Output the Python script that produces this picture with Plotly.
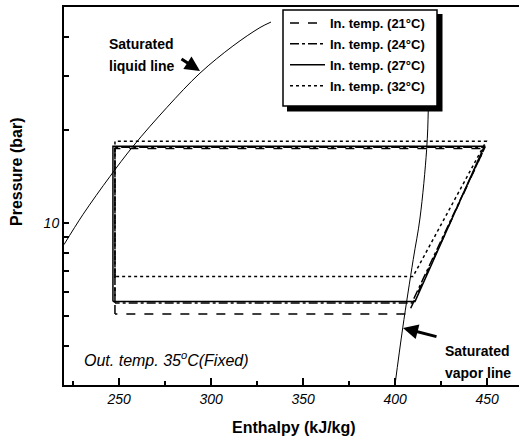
import plotly.graph_objects as go

# ---- data ----
# saturated liquid line (enthalpy kJ/kg, pressure bar)
liq_h = [220.0, 230.3, 245.0, 257.5, 276.0, 293.9, 311.8, 326.5, 332.5]
liq_p = [8.53, 10.67, 14.17, 17.72, 23.7, 30.56, 37.4, 42.9, 44.7]
# saturated vapor line
vap_h = [399.9, 404.1, 409.8, 413.5, 417.1, 418.0, 418.1]
vap_p = [3.0, 4.59, 7.63, 10.4, 17.3, 23.4, 33.9]

# refrigeration cycles for indoor temperatures
h_21 = [247.7, 247.7, 448.5, 407.0, 247.7]
p_21 = [5.09, 17.45, 17.45, 5.09, 5.09]
h_24 = [247.7, 247.7, 448.8, 409.0, 247.7]
p_24 = [5.52, 17.6, 17.6, 5.52, 5.52]
h_27 = [246.6, 246.6, 448.5, 410.8, 246.6]
p_27 = [5.59, 17.75, 17.75, 5.59, 5.59]
h_32 = [247.7, 247.7, 449.5, 409.7, 247.7]
p_32 = [6.73, 18.4, 18.4, 6.73, 6.73]

names = ["In. temp. (21°C)", "In. temp. (24°C)", "In. temp. (27°C)", "In. temp. (32°C)"]
dashes = ["dash", "dashdot", "solid", "dot"]

x_ticks = [250, 300, 350, 400, 450]
x_minor = [225, 275, 325, 375, 425]
y_ticks = [4, 5, 6, 7, 8, 9, 10, 20, 30, 40]
y_text = ["", "", "", "", "", "", "10", "", "", ""]

FONT = "Liberation Sans, Arial, sans-serif"

fig = go.Figure()
fig.add_trace(go.Scatter(x=liq_h, y=liq_p, mode="lines", line=dict(color="black", width=1),
                         line_shape="spline", showlegend=False, hoverinfo="skip"))
fig.add_trace(go.Scatter(x=vap_h, y=vap_p, mode="lines", line=dict(color="black", width=1),
                         line_shape="spline", showlegend=False, hoverinfo="skip"))

for i, (hs, ps) in enumerate([(h_21, p_21), (h_24, p_24), (h_27, p_27), (h_32, p_32)]):
    fig.add_trace(go.Scatter(x=hs, y=ps, mode="lines", name=names[i], legendgroup=f"g{i}",
                             line=dict(color="black", width=1.5, dash=dashes[i])))

def px_x(px):
    return (px - 64) / 455.0

def px_y(py):
    return (385 - py) / 378.0

annotations = [
    dict(text="<b>Saturated</b>", x=px_x(107), y=px_y(44), xanchor="left", yanchor="middle",
         font=dict(size=14, family=FONT, color="black")),
    dict(text="<b>liquid line</b>", x=px_x(107), y=px_y(66), xanchor="left", yanchor="middle",
         font=dict(size=14, family=FONT, color="black")),
    dict(text="<b>Saturated</b>", x=px_x(443), y=px_y(351), xanchor="left", yanchor="middle",
         font=dict(size=14, family=FONT, color="black")),
    dict(text="<b>vapor line</b>", x=px_x(443), y=px_y(373), xanchor="left", yanchor="middle",
         font=dict(size=14, family=FONT, color="black")),
    dict(text="<i>Out. temp. 35<sup>o</sup>C(Fixed)</i>", x=px_x(82), y=px_y(358.5),
         xanchor="left", yanchor="middle", font=dict(size=16, family=FONT, color="black")),
    dict(text="", x=px_x(200), y=px_y(71), showarrow=True, ax=-20, ay=-13,
         arrowhead=2, arrowwidth=3, arrowsize=1, arrowcolor="black"),
    dict(text="", x=px_x(403), y=px_y(328), showarrow=True, ax=35, ay=9,
         arrowhead=2, arrowwidth=3, arrowsize=1, arrowcolor="black"),
    dict(text="<b>Enthalpy (kJ/kg)</b>", x=px_x(294), y=px_y(427), xanchor="center", yanchor="middle",
         font=dict(size=16, family=FONT, color="black")),
    dict(text="<b>Pressure (bar)</b>", x=px_x(16), y=px_y(172), xanchor="center", yanchor="middle",
         textangle=-90, font=dict(size=16, family=FONT, color="black")),
]
for a in annotations:
    a.setdefault("showarrow", False)
    a["xref"] = "paper"
    a["yref"] = "paper"

shapes = [
    # legend drop shadow
    dict(type="rect", xref="paper", yref="paper",
         x0=px_x(287), x1=px_x(442.5), y0=px_y(111.5), y1=px_y(14),
         fillcolor="black", line=dict(width=0), layer="above"),
    # legend box
    dict(type="rect", xref="paper", yref="paper",
         x0=px_x(283), x1=px_x(437), y0=px_y(106), y1=px_y(10),
         fillcolor="white", line=dict(color="black", width=1.5), layer="above"),
]

fig.update_layout(
    width=519, height=439, autosize=False,
    margin=dict(l=64, r=0, t=7, b=54),
    paper_bgcolor="white", plot_bgcolor="white",
    font=dict(family=FONT, color="black"),
    showlegend=True,
    legend=dict(x=px_x(285), y=px_y(8), xanchor="left", yanchor="top",
                bgcolor="rgba(0,0,0,0)", borderwidth=0, itemwidth=35,
                font=dict(size=13, family=FONT, color="black", weight="bold"),
                tracegroupgap=1),
    annotations=annotations,
    shapes=shapes,
)

fig.update_xaxes(range=[220, 467.3], tickvals=x_ticks, ticks="inside", ticklen=7, tickwidth=1.5,
                 tickcolor="black", showline=True, linecolor="black", linewidth=2, mirror=True,
                 showgrid=False, zeroline=False,
                 tickfont=dict(size=14, family=FONT, style="italic", color="black"),
                 minor=dict(tickvals=x_minor, ticks="inside", ticklen=4, tickwidth=1.5, tickcolor="black",
                            showgrid=False))
fig.update_yaxes(type="log", range=[0.47712, 1.69897], tickvals=y_ticks, ticktext=y_text,
                 ticks="inside", ticklen=5, tickwidth=1.5, tickcolor="black",
                 showline=True, linecolor="black", linewidth=2, mirror=False,
                 showgrid=False, zeroline=False,
                 tickfont=dict(size=14, family=FONT, style="italic", color="black"))

fig.write_html("out.html", config={"displayModeBar": False},
               post_script="document.body.style.margin='0';document.body.style.overflow='hidden';")
